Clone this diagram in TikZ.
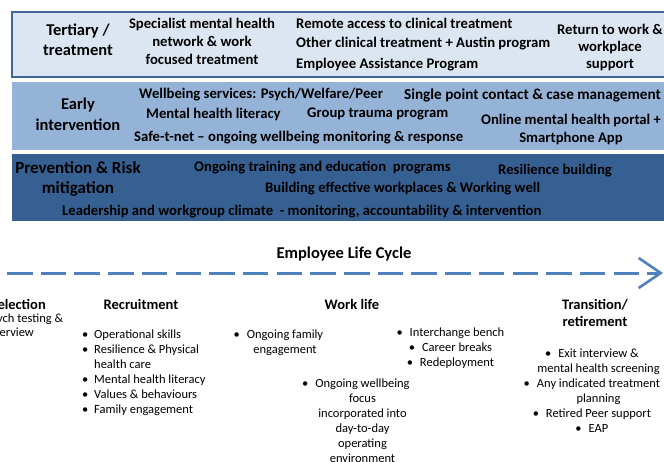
\documentclass[tikz,border=0pt]{standalone}
\usepackage{fontspec}
\setmainfont{Carlito}
\usetikzlibrary{arrows.meta}

\definecolor{tertfill}{HTML}{DCE6F2}
\definecolor{tertline}{HTML}{41679B}
\definecolor{earlyfill}{HTML}{95B3D7}
\definecolor{prevfill}{HTML}{376092}
\definecolor{cycleblue}{HTML}{4F81BD}

% bullets: \bitem hangs left of the text, \cbul keeps centred lines centred
\newcommand{\bitem}{\makebox[12pt][l]{•}}
\newcommand{\bindent}{\hspace*{12pt}}
\newcommand{\cbul}{\llap{•\hspace{7pt}}}

\begin{document}
\begin{tikzpicture}[x=1pt, y=-1pt]
    \tikzstyle{rowhead} = [font=\bfseries\fontsize{16.5}{20}\selectfont, inner sep=0, align=center];
    \tikzstyle{bandtext} = [font=\bfseries\fontsize{14.7}{18}\selectfont, inner sep=0, align=center];
    \tikzstyle{stagehead} = [font=\bfseries\fontsize{14.5}{17}\selectfont, inner sep=0, align=center];
    \tikzstyle{itemtext} = [font=\fontsize{12.5}{15}\selectfont, inner sep=0, align=center];

    \clip (0,0) rectangle (664,461);

    % the three bands
    \filldraw[fill=tertfill, draw=tertline, line width=1.6pt] (12,12) rectangle (690,77);
    \fill[earlyfill] (12,82) rectangle (690,150);
    \fill[prevfill] (12,154) rectangle (690,221);

    % tertiary
    \node[rowhead] (tertiary) at (78,40) {Tertiary /\\treatment};
    \node[bandtext] (specialist) at (202,41) {Specialist mental health\\network \& work\\focused treatment};
    \node[bandtext, anchor=west] (remote) at (296,23) {Remote access to clinical treatment};
    \node[bandtext, anchor=west] (other) at (296,44) {Other clinical treatment + Austin program};
    \node[bandtext, anchor=west] (eap) at (296,65) {Employee Assistance Program};
    \node[bandtext, font=\bfseries\fontsize{14.7}{17}\selectfont] (returnwork) at (610,47) {Return to work \&\\workplace\\support};

    % early intervention
    \node[rowhead, font=\bfseries\fontsize{16.5}{21}\selectfont] (early) at (78,114.5) {Early\\intervention};
    \node[bandtext, anchor=west] (wellbeing) at (139,95) {Wellbeing services: Psych/Welfare/Peer};
    \node[bandtext, font=\bfseries\fontsize{15.2}{18}\selectfont, anchor=east] (singlepoint) at (661,95) {Single point contact \& case management};
    \node[bandtext, anchor=west] (literacy) at (146,114) {Mental health literacy};
    \node[bandtext, anchor=west] (trauma) at (307,114) {Group trauma program};
    \node[bandtext] (portal) at (571,129) {Online mental health portal +\\Smartphone App};
    \node[bandtext, anchor=west] (safetnet) at (134,138) {Safe-t-net -- ongoing wellbeing monitoring \& response};

    % prevention
    \node[rowhead, font=\bfseries\fontsize{17}{20}\selectfont] (prevention) at (78,179) {Prevention \& Risk\\mitigation};
    \node[bandtext, anchor=west] (training) at (194,168) {Ongoing training and education\ \ programs};
    \node[bandtext, anchor=west] (resilience) at (498,171) {Resilience building};
    \node[bandtext, anchor=west] (workplaces) at (265,189) {Building effective workplaces \& Working well};
    \node[bandtext, anchor=west] (leadership) at (62,212) {Leadership and workgroup climate\ \ - monitoring, accountability \& intervention};

    % life cycle
    \node[rowhead] (lifecycle) at (344,254) {Employee Life Cycle};
    \coordinate (cyclestart) at (0,273);
    \coordinate (cycleend) at (663,273);
    \draw[cycleblue, line width=3pt, dash pattern=on 25.5pt off 8.2pt, dash phase=26.7pt,
          -{Straight Barb[length=22pt, width=30pt, line width=2.6pt]}] (cyclestart) -- (cycleend);

    % stages
    \node[stagehead, anchor=east] (selection) at (46,304) {Selection};
    \node[itemtext, align=left, font=\fontsize{12.5}{14}\selectfont, anchor=west] (selectlist) at (-14,325) {Psych testing \&\\interview};

    \node[stagehead] (recruitment) at (141,304) {Recruitment};
    \node[itemtext, align=left, anchor=west] (recruitlist) at (82,372.5)
        {\bitem Operational skills\\\bitem Resilience \& Physical\\\bindent health care\\\bitem Mental health literacy\\\bitem Values \& behaviours\\\bitem Family engagement};

    \node[stagehead] (worklife) at (352,304) {Work life};
    \node[itemtext] (family) at (285,342.5) {\cbul Ongoing family\\engagement};
    \node[itemtext] (interchange) at (457,348) {\cbul Interchange bench\\\cbul Career breaks\\\cbul Redeployment};
    \node[itemtext] (focus) at (362.5,420.5) {\cbul Ongoing wellbeing\\focus\\incorporated into\\day-to-day\\operating\\environment};

    \node[stagehead] (transition) at (595,312.5) {Transition/\\retirement};
    \node[itemtext] (translist) at (598.5,390.5) {\cbul Exit interview \&\\mental health screening\\\cbul Any indicated treatment\\planning\\\cbul Retired Peer support\\\cbul EAP};
\end{tikzpicture}
\end{document}
